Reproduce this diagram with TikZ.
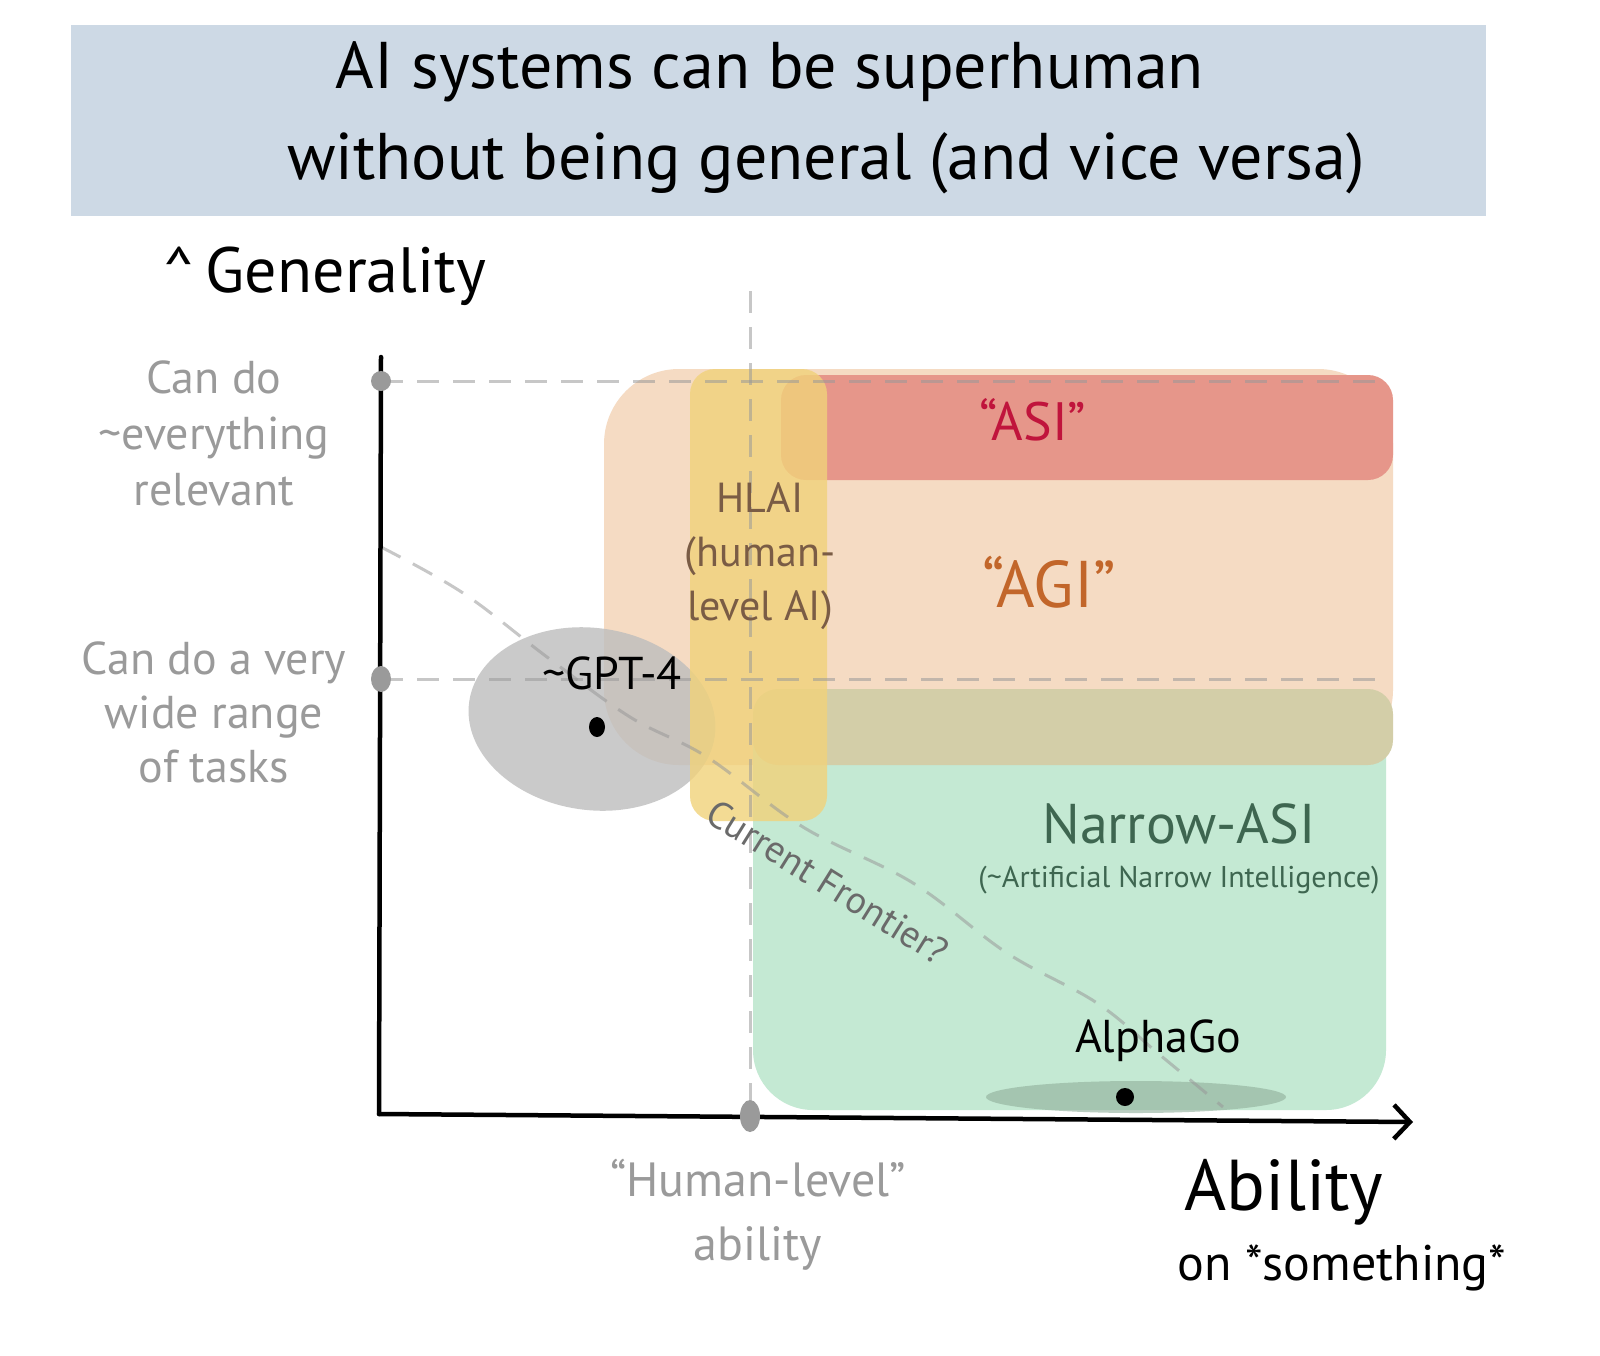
\documentclass[tikz,border=0pt]{standalone}
\usepackage{fontspec}
\setmainfont{PT Sans}
\usetikzlibrary{arrows.meta}
\definecolor{titleblue}{HTML}{CDD9E5}
\definecolor{peach}{HTML}{F5DBC3}
\definecolor{asired}{HTML}{E6968A}
\definecolor{narrowgreen}{HTML}{C4E9D3}
\definecolor{olive}{HTML}{D3CEA8}
\definecolor{hlaiyellow}{HTML}{F1D27A}
\definecolor{gptgray}{HTML}{BDBDBD}
\definecolor{gotone}{HTML}{8FAE9A}
\definecolor{labgray}{HTML}{9A9A9A}
\definecolor{hlaibrown}{HTML}{7A5C45}
\definecolor{asitext}{HTML}{C0143C}
\definecolor{agitext}{HTML}{C2662A}
\definecolor{greentext}{HTML}{3E6650}
\definecolor{frontgray}{HTML}{6A6A6A}
\tikzset{
  guide/.style={draw=gray!80, opacity=0.55, line width=3pt, dash pattern=on 22pt off 14pt},
  axisline/.style={draw=black, line width=4.5pt, line cap=round},
  lbl/.style={inner sep=0pt, align=center},
}
\begin{document}
\begin{tikzpicture}[x=1pt,y=-1pt]
\useasboundingbox[fill=white] (0,0) rectangle (1600,1355);

% title banner
\node[fill=titleblue, minimum width=1415pt, minimum height=191pt, inner sep=0pt] (banner) at (778,120) {};
\node[lbl, font={\fontsize{66}{70}\selectfont}] (t1) at (770,72) {AI systems can be superhuman};
\node[lbl, font={\fontsize{66}{70}\selectfont}] (t2) at (826,163) {without being general (and vice versa)};

% regions
\fill[peach, rounded corners=75pt] (604,369) rectangle (1393,765);
\fill[narrowgreen, rounded corners=60pt] (753,689) rectangle (1386,1110);
\fill[olive, rounded corners=25pt] (753,689) rectangle (1393,765);
\fill[asired, rounded corners=25pt] (781,375) rectangle (1393,480);
\fill[gptgray, opacity=0.8, rotate around={-8:(592,719)}] (592,719) ellipse [x radius=124pt, y radius=91pt];
\fill[hlaiyellow, opacity=0.8, rounded corners=25pt] (690,369) rectangle (827,821);
\fill[gotone, opacity=0.6] (1136,1097) ellipse [x radius=150pt, y radius=16pt];

% guide lines
\coordinate (ytop) at (381,381);
\coordinate (ymid) at (381,679);
\coordinate (hx) at (750,1116);
\draw[guide] (ytop) -- (1388,381);
\draw[guide] (ymid) -- (1388,679);
\draw[guide] (750,291) -- (hx);
\draw[guide] plot[smooth, tension=0.6] coordinates {(381,547) (463,593) (547,657) (630,717) (707,757) (803,827) (913,883) (1007,953) (1097,1003) (1160,1055) (1223,1107)};

% axes
\coordinate (origin) at (379,1114);
\coordinate (ytip) at (381,357);
\coordinate (xtip) at (1413,1122);
\draw[axisline] (origin) -- (ytip);
\draw[axisline, -{Straight Barb[length=16pt,width=34pt,line width=4.5pt]}] (origin) -- (xtip);

% axis marks
\fill[labgray] (ytop) circle (10pt);
\fill[labgray] (ymid) ellipse [x radius=10pt, y radius=13pt];
\fill[labgray] (hx) ellipse [x radius=10pt, y radius=16pt];

% points
\fill[black] (597,727) ellipse [x radius=8pt, y radius=10pt];
\fill[black] (1125,1097) circle (9pt);

% axis labels
\node[lbl, font={\fontsize{64}{70}\selectfont}, anchor=west] (gen) at (163,276) {\textasciicircum\,Generality};
\node[lbl, font={\fontsize{72}{80}\selectfont}] (abil) at (1284,1192) {Ability};
\node[lbl, font={\fontsize{50}{56}\selectfont}] (abil2) at (1342,1268) {on *something*};
\node[lbl, font={\fontsize{48}{64}\selectfont}, text=labgray] (hl) at (758,1215) {``Human-level''\\ability};
\node[lbl, font={\fontsize{46}{56}\selectfont}, text=labgray] (everything) at (214,433) {Can do\\\textasciitilde everything\\relevant};
\node[lbl, font={\fontsize{46}{54}\selectfont}, text=labgray] (wide) at (214,712) {Can do a very\\wide range\\of tasks};

% region labels
\node[lbl, font={\fontsize{54}{60}\selectfont}, text=asitext] (asi) at (1033,420) {``ASI''};
\node[lbl, font={\fontsize{66}{70}\selectfont}, text=agitext] (agi) at (1049,582) {``AGI''};
\node[lbl, font={\fontsize{42}{54}\selectfont}, text=hlaibrown] (hlai) at (760,556) {HLAI\\(human-\\level AI)};
\node[lbl, font={\fontsize{56}{60}\selectfont}, text=greentext] (narrow) at (1179,824) {Narrow-ASI};
\node[lbl, font={\fontsize{30}{36}\selectfont}, text=greentext] (ani) at (1179,880) {(\textasciitilde Artificial Narrow Intelligence)};
\node[lbl, font={\fontsize{46}{50}\selectfont}] (gpt) at (612,673) {\textasciitilde GPT-4};
\node[lbl, font={\fontsize{46}{50}\selectfont}] (go) at (1158,1041) {AlphaGo};
\node[lbl, font={\fontsize{38}{42}\selectfont}, text=frontgray, rotate=-32] (front) at (828,882) {Current Frontier?};
\end{tikzpicture}
\end{document}
